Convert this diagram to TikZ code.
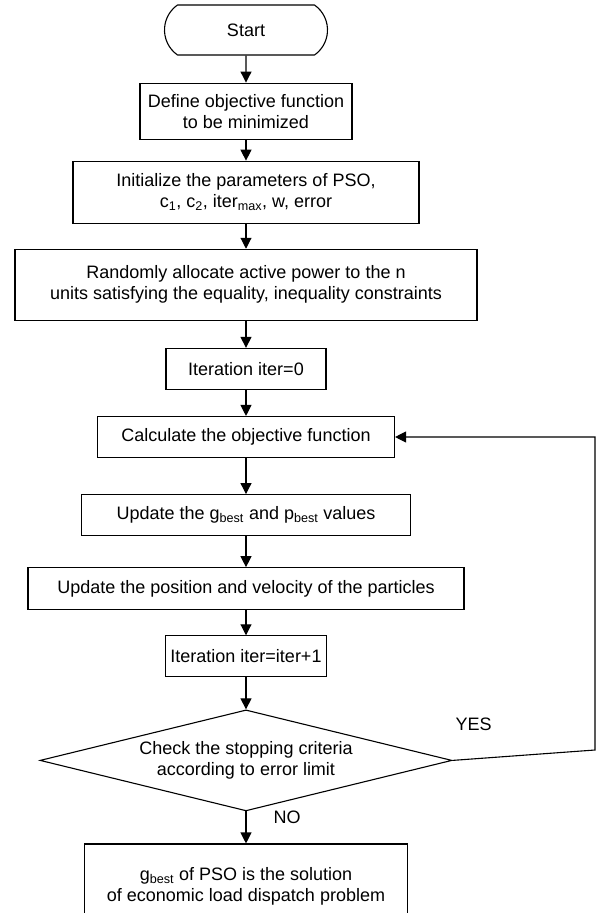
\documentclass[tikz,border=0pt]{standalone}
\usepackage{fontspec}
\setmainfont{Liberation Sans}
\usetikzlibrary{positioning,shapes.geometric,shapes.misc,arrows.meta}

\begin{document}
\begin{tikzpicture}[x=1pt, y=1pt, node distance=26pt, line width=1.1pt,
  box/.style={draw, minimum height=41pt, inner sep=0pt, align=center, font=\fontsize{18}{21}\selectfont},
  term/.style={box, rounded rectangle, rounded rectangle arc length=110, minimum width=163pt, minimum height=50pt},
  decision/.style={box, diamond, aspect=4, minimum width=412pt, minimum height=101pt},
  lbl/.style={inner sep=0pt, font=\fontsize{18}{21}\selectfont},
  >={Triangle[length=11pt, width=11pt]}]
  \clip (0,0) rectangle (597,-913);
  \node[term] (start) at (246,-30) {Start};
  \node[box, below=27pt of start, minimum width=212pt, minimum height=56pt] (define) {Define objective function\\to be minimized};
  \node[box, below=21pt of define, minimum width=346pt, minimum height=62pt] (init) {Initialize the parameters of PSO,\\c\textsubscript{1}, c\textsubscript{2}, iter\textsubscript{max}, w, error};
  \node[box, below=25pt of init, minimum width=462pt, minimum height=71pt] (alloc) {Randomly allocate active power to the n\\units satisfying the equality, inequality constraints};
  \node[box, below=27pt of alloc, minimum width=160pt] (iterzero) {Iteration iter=0};
  \node[box, below=26pt of iterzero, minimum width=297pt] (calc) {Calculate the objective function};
  \node[box, below=36pt of calc, minimum width=329pt] (best) {Update the g\textsubscript{best} and p\textsubscript{best} values};
  \node[box, below=31pt of best, minimum width=436pt, minimum height=42pt] (move) {Update the position and velocity of the particles};
  \node[box, below=25pt of move, minimum width=161pt] (iternext) {Iteration iter=iter+1};
  \node[decision, below=32pt of iternext] (check) {Check the stopping criteria\\according to error limit};
  \node[box, below=32pt of check, minimum width=323pt, minimum height=84pt] (result) {g\textsubscript{best} of PSO is the solution\\of economic load dispatch problem};
  \coordinate (loop) at (595,-750);
  \node[lbl, anchor=west] (yes) at (455,-724) {YES};
  \node[lbl, anchor=west] (no) at (273,-817) {NO};
  \draw[->] (start) -- (define); \draw[->] (define) -- (init); \draw[->] (init) -- (alloc);
  \draw[->] (alloc) -- (iterzero); \draw[->] (iterzero) -- (calc); \draw[->] (calc) -- (best);
  \draw[->] (best) -- (move); \draw[->] (move) -- (iternext); \draw[->] (iternext) -- (check);
  \draw[->] (check) -- (result);
  \draw[->] (check.east) -- (loop) |- (calc.east);
\end{tikzpicture}
\end{document}
